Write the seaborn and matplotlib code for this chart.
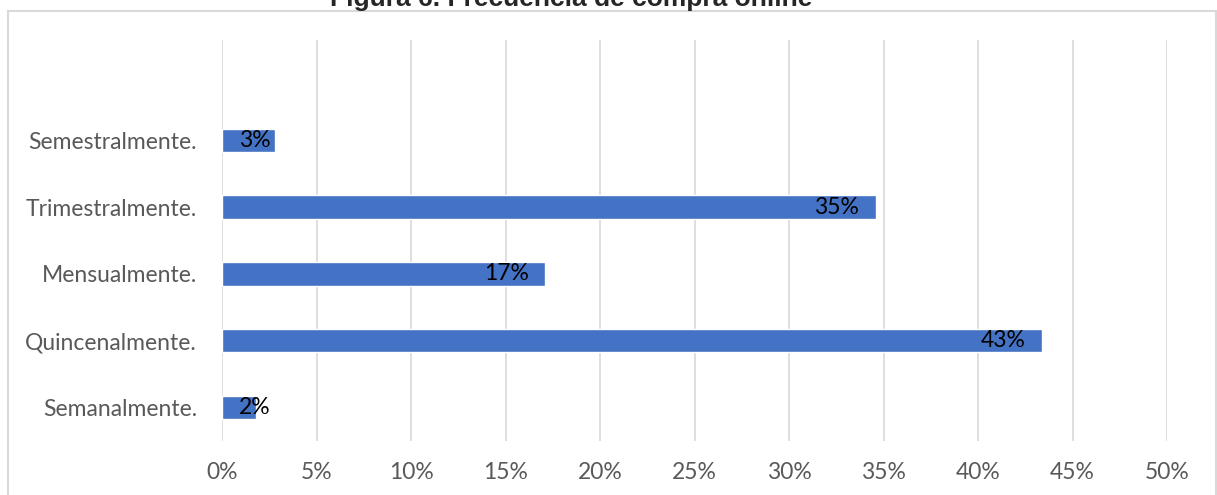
import matplotlib
matplotlib.use("Agg")
import matplotlib.pyplot as plt
import seaborn as sns
import pandas as pd
from matplotlib.patches import Rectangle

# Datos (de arriba hacia abajo)
categorias = ["Semestralmente.", "Trimestralmente.", "Mensualmente.", "Quincenalmente.", "Semanalmente."]
valores = [0.028, 0.346, 0.171, 0.434, 0.018]
ticks = [0, 0.05, 0.10, 0.15, 0.20, 0.25, 0.30, 0.35, 0.40, 0.45, 0.50]
titulo = "Figura 6. Frecuencia de compra online"

df = pd.DataFrame({"categoria": categorias, "valor": valores})

sns.set_style("white")
plt.rcParams["font.family"] = ["Lato", "DejaVu Sans"]

fig = plt.figure(figsize=(12.17, 4.95), dpi=100)
ax = fig.add_axes([222 / 1217, 1 - 441 / 495, (1167 - 222) / 1217, (441 - 40) / 495])

sns.barplot(data=df, x="valor", y="categoria", orient="h", color="#4472C4",
            width=0.35, saturation=1, ax=ax)

ax.set_xlim(0, 0.5)
ax.set_ylim(4.5, -1.5)
ax.set_xticks(ticks)
ax.set_xticklabels([f"{t:.0%}" for t in ticks])
ax.set_xlabel("")
ax.set_ylabel("")
ax.grid(axis="x", color="#d9d9d9", linewidth=1.2)
ax.grid(axis="y", visible=False)
ax.set_axisbelow(True)
for s in ax.spines.values():
    s.set_visible(False)
ax.tick_params(axis="x", length=0, pad=15, labelsize=16.5, labelcolor="#595959")
ax.tick_params(axis="y", length=0, pad=18, labelsize=16.5, labelcolor="#595959")

# Etiquetas de datos
for i, v in enumerate(valores):
    if v < 0.05:
        ax.annotate(f"{v:.0%}", xy=(0, i), xytext=(12, 0), textcoords="offset points",
                    ha="left", va="center", fontsize=16.5, color="black")
    else:
        ax.annotate(f"{v:.0%}", xy=(v, i), xytext=(-12, 0), textcoords="offset points",
                    ha="right", va="center", fontsize=16.5, color="black")

# Marco del gráfico
fig.patches.append(Rectangle((8 / 1217, -0.05), (1216 - 8) / 1217, 1.05 - 11 / 495,
                             transform=fig.transFigure, fill=False,
                             edgecolor="#d9d9d9", linewidth=1.5))

fig.text(571 / 1217, 1 - 6 / 495, titulo, ha="center", va="baseline",
         fontsize=19, fontweight="bold", family=["Liberation Sans", "DejaVu Sans"])

fig.savefig("out.png", dpi=100)
